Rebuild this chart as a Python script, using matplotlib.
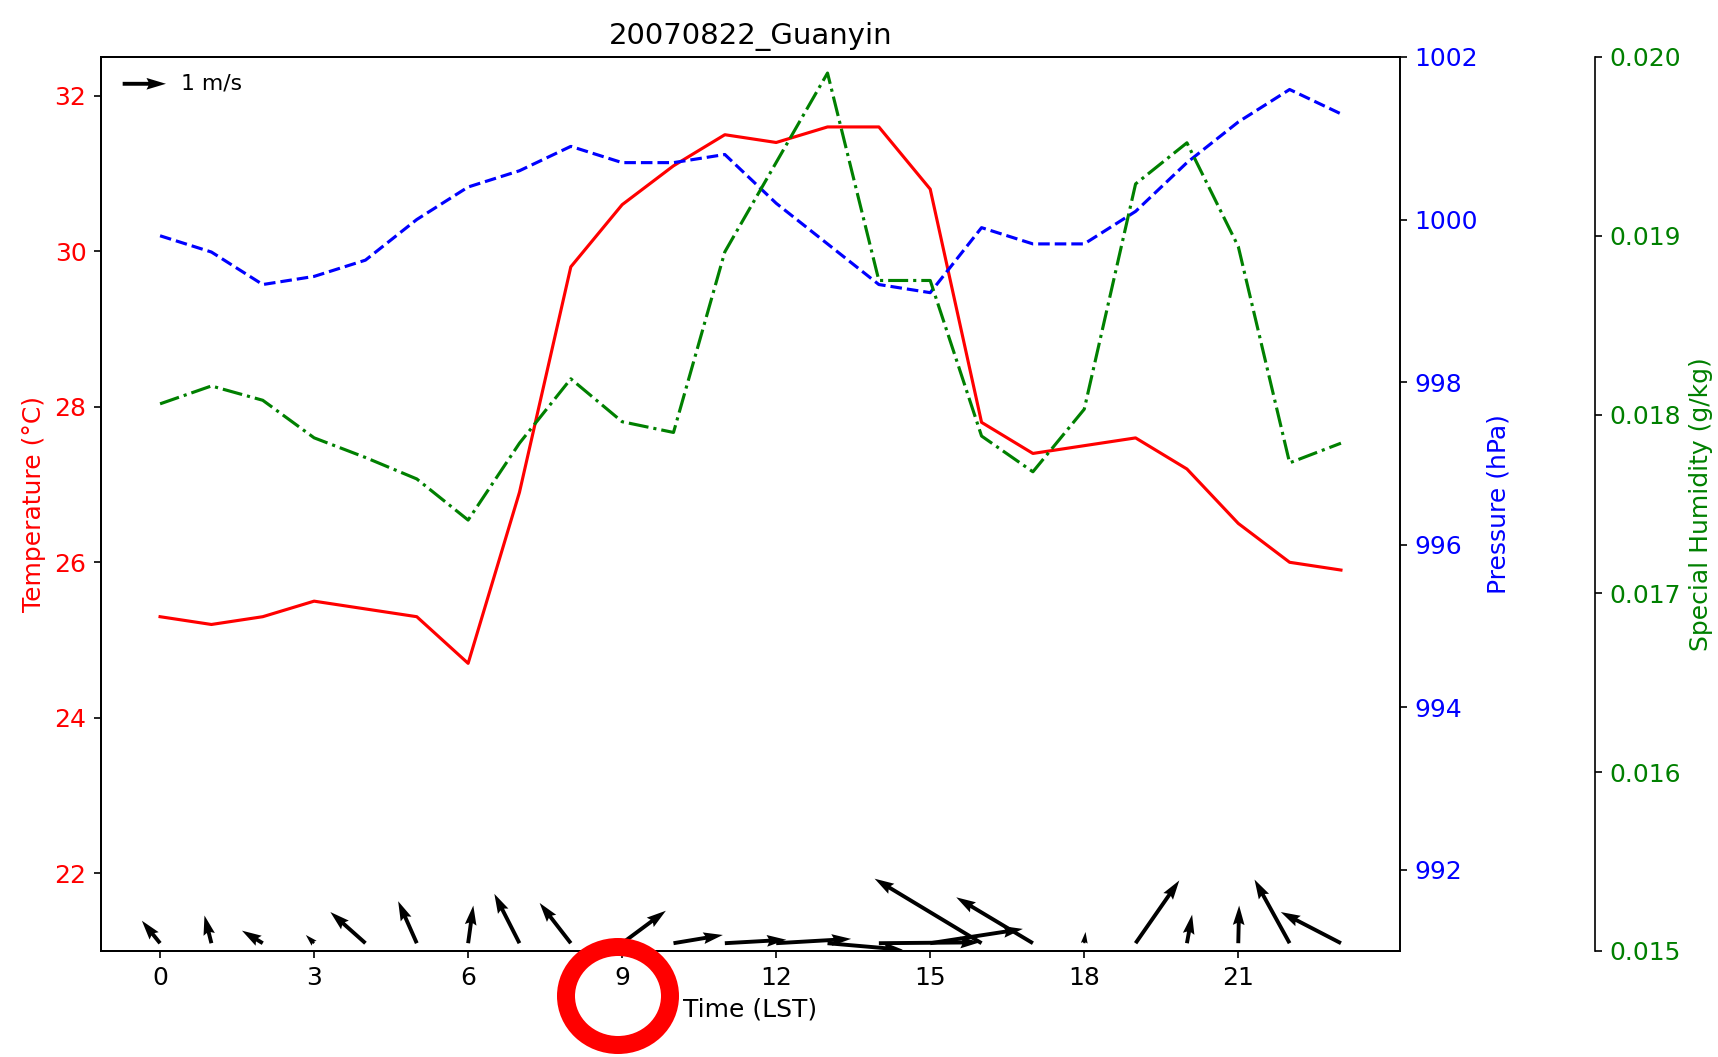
import numpy as np
import matplotlib
matplotlib.use("Agg")
import matplotlib.pyplot as plt
from matplotlib.patches import Ellipse


# Hourly station data, 2007-08-22 at Guanyin
hours = np.arange(24)
temperature = [25.3, 25.2, 25.3, 25.5, 25.4, 25.3, 24.7, 26.9, 29.8, 30.6,
               31.1, 31.5, 31.4, 31.6, 31.6, 30.8, 27.8, 27.4, 27.5, 27.6,
               27.2, 26.5, 26.0, 25.9]
pressure = [999.8, 999.6, 999.2, 999.3, 999.5, 1000.0, 1000.4, 1000.6,
            1000.9, 1000.7, 1000.7, 1000.8, 1000.2, 999.7, 999.2, 999.1,
            999.9, 999.7, 999.7, 1000.1, 1000.7, 1001.2, 1001.6, 1001.3]
humidity = [0.01806, 0.01816, 0.01808, 0.01787, 0.01776, 0.01764, 0.01741,
            0.01784, 0.01820, 0.01796, 0.01790, 0.01891, 0.01941, 0.01991,
            0.01875, 0.01875, 0.01788, 0.01768, 0.01803, 0.01929, 0.01952,
            0.01894, 0.01773, 0.01784]
wind_u = [-0.42, -0.16, -0.48, -0.19, -0.81, -0.43, 0.12, -0.58, -0.72, 1.01,
          1.14, 1.42, 1.73, 1.74, 2.33, 2.14, -2.47, -1.77, 0.03, 1.01,
          0.12, 0.02, -0.81, -1.39]
wind_v = [0.52, 0.64, 0.29, 0.19, 0.72, 0.97, 0.87, 1.14, 0.93, 0.75,
          0.19, 0.08, 0.10, -0.15, 0.02, 0.33, 1.49, 1.06, 0.26, 1.45,
          0.66, 0.87, 1.47, 0.72]
wind_level = 21.1
xticks = [0, 3, 6, 9, 12, 15, 18, 21]

dpi = 150
fs = 12
fig = plt.figure(figsize=(1718 / dpi, 1057 / dpi), dpi=dpi)
ax1 = fig.add_axes([0.0588, 0.1003, 0.7561, 0.8458])

# Temperature
ax1.plot(hours, temperature, "r-", linewidth=1.5)
ax1.set_ylim(21, 32.5)
ax1.set_xlim(-1.15, 24.15)
ax1.set_xticks(xticks)
ax1.set_ylabel("Temperature (°C)", color="r", fontsize=fs)
ax1.tick_params(axis="y", labelcolor="r", labelsize=fs)
ax1.tick_params(axis="x", labelsize=fs)
ax1.set_xlabel("Time (LST)", fontsize=fs)
ax1.set_title("20070822_Guanyin", fontsize=14)

# Pressure
ax2 = ax1.twinx()
ax2.plot(hours, pressure, "b--", linewidth=1.5)
ax2.set_ylim(991, 1002)
ax2.set_yticks([992, 994, 996, 998, 1000, 1002])
ax2.set_ylabel("Pressure (hPa)", color="b", fontsize=fs)
ax2.tick_params(axis="y", labelcolor="b", labelsize=fs)

# Humidity, on an offset axis
ax3 = ax1.twinx()
ax3.spines["right"].set_position(("axes", 1.15))
ax3.plot(hours, humidity, "g-.", linewidth=1.5)
ax3.set_ylim(0.015, 0.020)
ax3.set_yticks([0.015, 0.016, 0.017, 0.018, 0.019, 0.020])
ax3.set_yticklabels(["0.015", "0.016", "0.017", "0.018", "0.019", "0.020"])
ax3.set_ylabel("Special Humidity (g/kg)", color="g", fontsize=fs)
ax3.tick_params(axis="y", labelcolor="g", labelsize=fs)

# Wind vectors
q = ax3.quiver(hours, np.full(len(hours), wind_level), wind_u, wind_v,
               transform=ax1.transData, scale_units="inches",
               scale=dpi / 43.3, width=0.003, color="k")
ax1.quiverkey(q, 0.05, 0.97, 1, "1 m/s", labelpos="E", coordinates="axes",
              fontproperties={"size": 10.5})
ax1.set_xlim(-1.15, 24.15)

# red highlight ring around the 9 LST tick
ring = Ellipse((618 / 1718, 1 - 996 / 1057), 104 / 1718, 98 / 1057,
               transform=fig.transFigure, fill=False, edgecolor="red",
               linewidth=18 * 72 / dpi)
fig.add_artist(ring)

fig.savefig("out.png", dpi=dpi)
